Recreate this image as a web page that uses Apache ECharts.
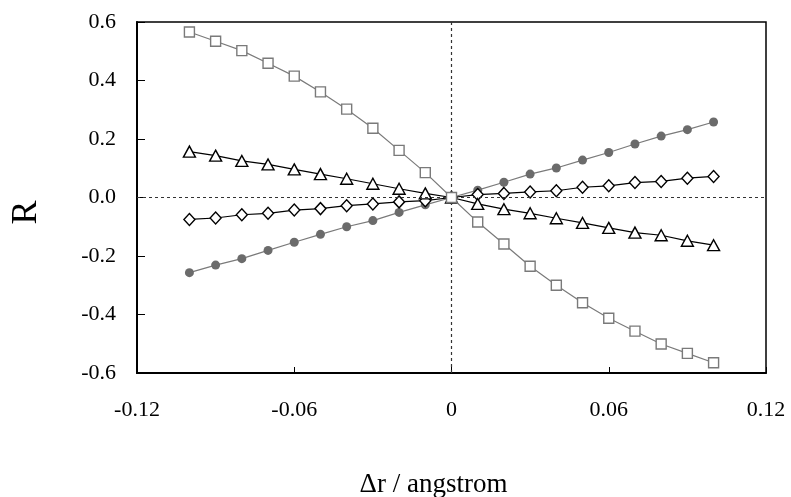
<!DOCTYPE html>
<html>
<head>
<meta charset="utf-8">
<script src="https://cdn.jsdelivr.net/npm/echarts@6/dist/echarts.min.js"></script>
<style>html,body{margin:0;padding:0;background:#fff;}#c{width:791px;height:497px;}</style>
</head>
<body>
<div id="c"></div>
<script>
const dr = [-0.10,-0.09,-0.08,-0.07,-0.06,-0.05,-0.04,-0.03,-0.02,-0.01,0,0.01,0.02,0.03,0.04,0.05,0.06,0.07,0.08,0.09,0.10];
const squares = [0.566,0.534,0.502,0.459,0.415,0.361,0.302,0.237,0.161,0.085,0,-0.084,-0.159,-0.235,-0.300,-0.360,-0.413,-0.457,-0.501,-0.533,-0.565];
const triangles = [0.157,0.143,0.125,0.113,0.096,0.080,0.064,0.047,0.030,0.014,0,-0.022,-0.040,-0.054,-0.071,-0.087,-0.104,-0.120,-0.129,-0.148,-0.163];
const circles = [-0.257,-0.231,-0.209,-0.181,-0.153,-0.126,-0.100,-0.079,-0.051,-0.025,0,0.025,0.052,0.080,0.101,0.128,0.154,0.183,0.210,0.232,0.258];
const diamonds = [-0.075,-0.070,-0.059,-0.054,-0.043,-0.038,-0.028,-0.022,-0.015,-0.011,0,0.010,0.014,0.019,0.023,0.035,0.040,0.051,0.055,0.066,0.072];
const xTickLabels = ['-0.12','-0.06','0','0.06','0.12'];
const yTickLabels = ['-0.6','-0.4','-0.2','0.0','0.2','0.4','0.6'];

const font = '"Liberation Serif","DejaVu Serif",serif';
const pairs = arr => dr.map((x,i)=>[x,arr[i]]);

const chart = echarts.init(document.getElementById('c'), null, {renderer:'canvas'});
chart.setOption({
  animation:false,
  backgroundColor:'#fff',
  grid:{left:137,right:25,top:22,bottom:124,containLabel:false,outerBoundsMode:'none',
    show:true,borderColor:'#000',borderWidth:1.5,backgroundColor:'transparent'},
  xAxis:{
    type:'value',min:-0.12,max:0.12,interval:0.06,
    name:'\u0394r / angstrom',nameLocation:'middle',nameGap:98,
    nameTextStyle:{fontFamily:font,fontSize:27,color:'#000',padding:[0,36,0,0]},
    axisLine:{show:true,onZero:false,lineStyle:{color:'#000',width:2}},
    axisTick:{show:true,inside:true,length:6,lineStyle:{color:'#000',width:1}},
    splitLine:{show:false},
    axisLabel:{margin:26,fontFamily:font,fontSize:22,color:'#000',
      formatter:(v)=>{const i=Math.round((v+0.12)/0.06);return xTickLabels[i]!==undefined?xTickLabels[i]:'';}}
  },
  yAxis:{
    type:'value',min:-0.6,max:0.6,interval:0.2,
    name:'R',nameLocation:'middle',nameGap:92,nameRotate:90,
    nameTextStyle:{fontFamily:font,fontSize:36,color:'#000',padding:[0,30,0,0]},
    axisLine:{show:true,onZero:false,lineStyle:{color:'#000',width:2}},
    axisTick:{show:true,inside:true,length:8,lineStyle:{color:'#000',width:1}},
    splitLine:{show:false},
    axisLabel:{margin:21,fontFamily:font,fontSize:22,color:'#000',
      formatter:(v)=>{const i=Math.round((v+0.6)/0.2);return yTickLabels[i]!==undefined?yTickLabels[i]:'';}}
  },
  series:[
    {type:'line',data:pairs(circles),symbol:'circle',symbolSize:9,
      itemStyle:{color:'#6b6b6b',borderWidth:0},lineStyle:{color:'#7a7a7a',width:1.2},z:2,
      markLine:{silent:true,symbol:'none',label:{show:false},
        lineStyle:{color:'#333',type:[3,3],width:1.2},
        data:[{xAxis:0},{yAxis:0}]}},
    {type:'line',data:pairs(diamonds),symbol:'diamond',symbolSize:[11,12],
      itemStyle:{color:'#fff',borderColor:'#000',borderWidth:1.4},lineStyle:{color:'#000',width:1.2},z:3},
    {type:'line',data:pairs(triangles),symbol:'triangle',symbolSize:[12,11],
      itemStyle:{color:'#fff',borderColor:'#000',borderWidth:1.4},lineStyle:{color:'#000',width:1.2},z:4},
    {type:'line',data:pairs(squares),symbol:'rect',symbolSize:10,
      itemStyle:{color:'#fff',borderColor:'#7a7a7a',borderWidth:1.4},lineStyle:{color:'#7a7a7a',width:1.2},z:5}
  ]
});
</script>
</body>
</html>
